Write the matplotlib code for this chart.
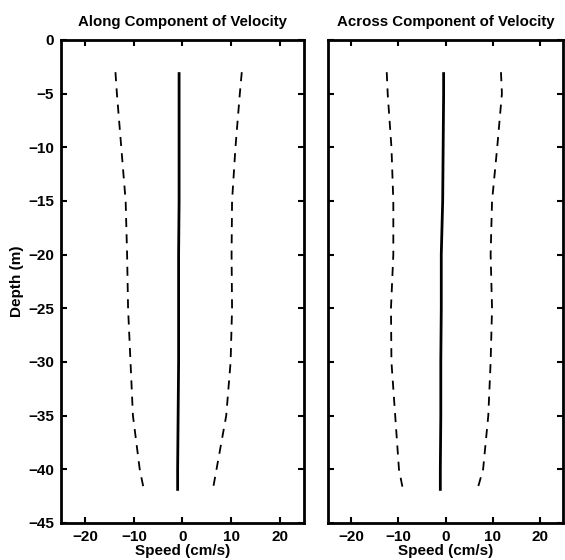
import matplotlib
matplotlib.use("Agg")
import matplotlib.pyplot as plt

plt.rcParams['font.family'] = ['Liberation Sans', 'DejaVu Sans']

depth = [-3, -5, -10, -15, -20, -25, -30, -35, -40, -42]

along_mean = [-0.7, -0.7, -0.7, -0.7, -0.8, -0.8, -0.8, -0.9, -1.0, -1.0]
along_low = [-13.8, -13.5, -12.6, -11.7, -11.4, -11.2, -10.7, -10.2, -8.8, -7.9]
along_high = [12.2, 11.8, 10.9, 10.2, 10.1, 10.2, 9.9, 9.0, 7.0, 6.2]

across_mean = [-0.4, -0.4, -0.5, -0.6, -0.9, -0.9, -1.0, -1.0, -1.1, -1.1]
across_low = [-12.5, -12.3, -11.5, -11.1, -11.1, -11.6, -11.5, -10.7, -9.9, -9.0]
across_high = [11.8, 12.0, 11.0, 9.9, 9.6, 9.9, 9.6, 9.1, 8.0, 6.7]

titles = ["Along Component of Velocity", "Across Component of Velocity"]
xticks = [-20, -10, 0, 10, 20]
yticks = [0, -5, -10, -15, -20, -25, -30, -35, -40, -45]

fig = plt.figure(figsize=(5.65, 5.6), dpi=100)
ax1 = fig.add_axes([0.108, 0.0661, 0.430, 0.8625])
ax2 = fig.add_axes([0.5805, 0.0661, 0.416, 0.8625])

panels = [(ax1, along_mean, along_low, along_high, titles[0]),
          (ax2, across_mean, across_low, across_high, titles[1])]

for i, (ax, m, lo, hi, t) in enumerate(panels):
    ax.plot(m, depth, color='black', lw=2.0, solid_capstyle='butt')
    ax.plot(lo, depth, color='black', lw=1.3, dashes=(5, 4))
    ax.plot(hi, depth, color='black', lw=1.3, dashes=(5, 4))
    ax.set_xlim(-25, 25)
    ax.set_ylim(-45, 0)
    ax.set_xticks(xticks)
    ax.set_yticks(yticks)
    ax.tick_params(direction='in', length=4, width=1.5, top=True, right=True,
                   labelsize=11, pad=5)
    for lab in ax.get_xticklabels() + ax.get_yticklabels():
        lab.set_fontweight('bold')
    for s in ax.spines.values():
        s.set_linewidth(2.0)
    ax.set_title(t, fontsize=10.8, fontweight='bold', pad=10)
    ax.set_xlabel("Speed (cm/s)", fontsize=11, fontweight='bold', labelpad=0)
    if i == 1:
        ax.set_yticklabels([])

ax1.set_ylabel("Depth (m)", fontsize=11, fontweight='bold', labelpad=3)

fig.savefig("out.png", dpi=100)
